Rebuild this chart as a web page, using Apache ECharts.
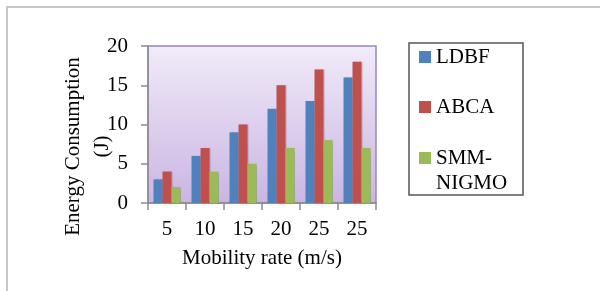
<!DOCTYPE html>
<html>
<head>
<meta charset="utf-8">
<script src="https://cdn.jsdelivr.net/npm/echarts@6/dist/echarts.min.js"></script>
<style>html,body{margin:0;padding:0;background:#fff}#c{width:600px;height:291px}</style>
</head>
<body>
<div id="c"></div>
<script>
const categories = ['5', '10', '15', '20', '25', '25'];
const ldbf = [3, 6, 9, 12, 13, 16];
const abca = [4, 7, 10, 15, 17, 18];
const smm = [2, 4, 5, 7, 8, 7];
const seriesNames = ['LDBF', 'ABCA', 'SMM-NIGMO'];
const yTicks = { min: 0, max: 20, interval: 5 };

const colors = ['#4f81bd', '#c0504d', '#9bbb59'];
const font = 'Liberation Serif';
const chart = echarts.init(document.getElementById('c'));

function legendAt(name, top, extra) {
  return Object.assign({
    data: [name],
    orient: 'vertical',
    left: 419,
    top: top,
    padding: 0,
    itemWidth: 12,
    itemHeight: 12,
    itemGap: 0,
    icon: 'rect',
    selectedMode: false,
    textStyle: { fontFamily: font, fontSize: 21, color: '#000', lineHeight: 25 }
  }, extra || {});
}

chart.setOption({
  animation: false,
  color: colors,
  graphic: [
    { type: 'rect', shape: { x: 7, y: 7, width: 700, height: 400 }, style: { fill: 'none', stroke: '#c8c8c8', lineWidth: 2 }, silent: true, z: -10 },
    { type: 'rect', shape: { x: 409, y: 43, width: 114, height: 152 }, style: { fill: '#fff', stroke: '#555', lineWidth: 1.5 }, silent: true, z: -5 }
  ],
  legend: [
    legendAt('LDBF', 44.5),
    legendAt('ABCA', 94.5),
    legendAt('SMM-NIGMO', 120.5, {
      formatter: function () { return ' \nSMM-\nNIGMO'; }
    })
  ],
  grid: {
    left: 148, right: 224, top: 46, bottom: 88,
    show: true,
    borderColor: '#9a86b8',
    borderWidth: 1.5,
    backgroundColor: new echarts.graphic.LinearGradient(0, 0, 0, 1, [
      { offset: 0, color: '#f1ebf9' },
      { offset: 1, color: '#c9b5e3' }
    ])
  },
  xAxis: {
    type: 'category',
    data: categories,
    name: 'Mobility rate (m/s)',
    nameLocation: 'middle',
    nameGap: 45,
    nameMoveOverlap: false,
    nameTextStyle: { fontFamily: font, fontSize: 21, color: '#000' },
    axisLine: { lineStyle: { color: '#8c8c8c', width: 1.5 } },
    axisTick: { show: true, length: 7, lineStyle: { color: '#8c8c8c', width: 1.5 } },
    axisLabel: { fontFamily: font, fontSize: 21, color: '#000', margin: 16 }
  },
  yAxis: {
    type: 'value',
    min: yTicks.min, max: yTicks.max, interval: yTicks.interval,
    name: 'Energy Consumption\n(J)',
    nameLocation: 'middle',
    nameRotate: 90,
    nameGap: 31,
    nameMoveOverlap: false,
    nameTextStyle: { fontFamily: font, fontSize: 21, color: '#000', lineHeight: 29, padding: [0, 44, 0, 0] },
    splitLine: { show: false },
    axisLine: { show: true, lineStyle: { color: '#8c8c8c', width: 1.5 } },
    axisTick: { show: true, length: 7, lineStyle: { color: '#8c8c8c', width: 1.5 } },
    axisLabel: { fontFamily: font, fontSize: 21, color: '#000', margin: 20 }
  },
  series: [
    { name: seriesNames[0], type: 'bar', data: ldbf, barGap: '0%', barCategoryGap: '29%', itemStyle: { shadowColor: 'rgba(0,0,0,0.2)', shadowOffsetX: 1, shadowBlur: 1 } },
    { name: seriesNames[1], type: 'bar', data: abca, barGap: '0%', barCategoryGap: '29%', itemStyle: { shadowColor: 'rgba(0,0,0,0.2)', shadowOffsetX: 1, shadowBlur: 1 } },
    { name: seriesNames[2], type: 'bar', data: smm, barGap: '0%', barCategoryGap: '29%', itemStyle: { shadowColor: 'rgba(0,0,0,0.2)', shadowOffsetX: 1, shadowBlur: 1 } }
  ]
});
</script>
</body>
</html>
